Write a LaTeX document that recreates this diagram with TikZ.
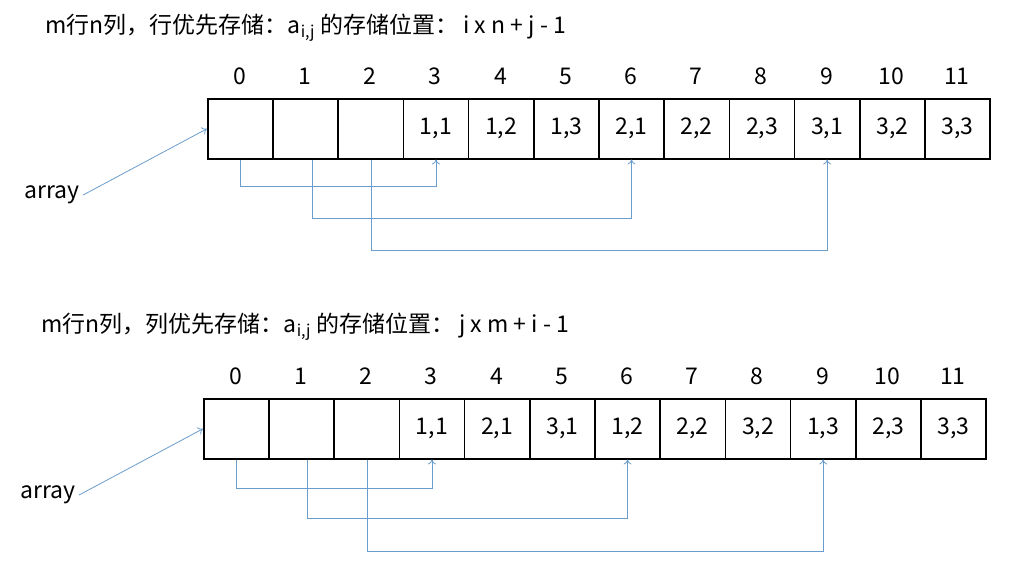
\documentclass[tikz,border=0pt]{standalone}
\usepackage{fontspec}
\usetikzlibrary{arrows.meta}
\setmainfont{Noto Sans CJK SC}
\definecolor{ln}{HTML}{6A9CCC}
\begin{document}
\begin{tikzpicture}[x=1pt,y=-1pt,
  cell/.style={draw=black,line width=1.5pt,minimum width=65.2pt,minimum height=60pt,anchor=north west,inner sep=0pt,font=\fontsize{23}{23}\selectfont},
  idx/.style={font=\fontsize{23}{23}\selectfont},
  ttl/.style={font=\fontsize{23}{23}\selectfont,anchor=west},
  conn/.style={draw=ln,line width=0.8pt,-{To[length=5pt,width=8pt]}}]
\useasboundingbox (0,0) rectangle (1032,579);
\node[ttl] (t1) at (42,28) {m行n列，行优先存储：a\textsubscript{i,j} 的存储位置： i x n + j - 1};
\node[ttl] (t2) at (38,327) {m行n列，列优先存储：a\textsubscript{i,j} 的存储位置： j x m + i - 1};
\foreach \r/\x/\y/\labs in {A/207/98/{,,,{1,1},{1,2},{1,3},{2,1},{2,2},{2,3},{3,1},{3,2},{3,3}},
                            B/203/398/{,,,{1,1},{2,1},{3,1},{1,2},{2,2},{3,2},{1,3},{2,3},{3,3}}}{
  \foreach \l [count=\i from 0] in \labs {
    \node[cell] (\r\i) at ({\x+\i*65.2},\y) {\l};
    \node[idx] (\r n\i) at ({\x+\i*65.2+32.6},{\y-22}) {\i};
  }
}
\node[idx] (arrA) at (52,195) {array};
\node[idx] (arrB) at (48,495) {array};
\draw[conn] (arrA.east) -- (A0.west);
\draw[conn] (arrB.east) -- (B0.west);
\draw[conn] (A0.south) -- ++(0,27) -| (A3.south);
\draw[conn] ([xshift=7pt]A1.south) -- ++(0,59) -| (A6.south);
\draw[conn] ([xshift=1pt]A2.south) -- ++(0,91) -| (A9.south);
\draw[conn] (B0.south) -- ++(0,29) -| (B3.south);
\draw[conn] ([xshift=6pt]B1.south) -- ++(0,59) -| (B6.south);
\draw[conn] ([xshift=1pt]B2.south) -- ++(0,92) -| (B9.south);
\end{tikzpicture}
\end{document}
